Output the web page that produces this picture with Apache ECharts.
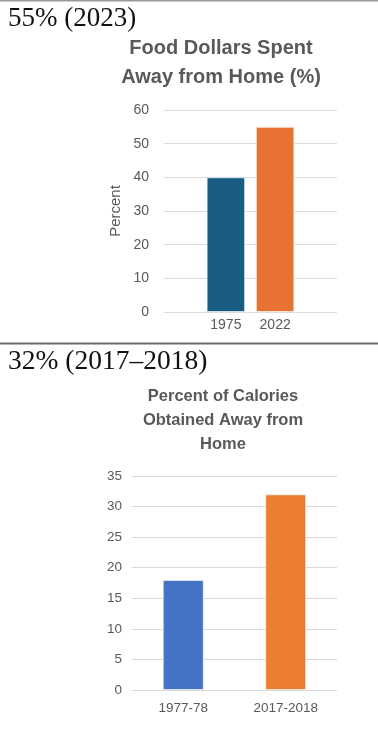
<!DOCTYPE html>
<html>
<head>
<meta charset="utf-8">
<script src="https://cdn.jsdelivr.net/npm/echarts@6/dist/echarts.min.js"></script>
<style>
html,body{margin:0;padding:0;background:#fff;}
#chart{width:378px;height:729px;}
</style>
</head>
<body>
<div id="chart"></div>
<script>
// ---- Data ----
const heading1 = '55% (2023)';
const title1 = 'Food Dollars Spent\nAway from Home (%)';
const categories1 = ['1975', '2022'];
const values1 = [40, 55];
const colors1 = ['#195E82', '#E87232'];
const yTicks1 = { min: 0, max: 60, interval: 10 };

const heading2 = '32% (2017\u20132018)';
const title2 = 'Percent of Calories\nObtained Away from\nHome';
const categories2 = ['1977-78', '2017-2018'];
const values2 = [18, 32];
const colors2 = ['#4472C4', '#ED7D31'];
const yTicks2 = { min: 0, max: 35, interval: 5 };

const chart = echarts.init(document.getElementById('chart'), null, { renderer: 'canvas' });

const gray = '#595959';
const sans = '"Liberation Sans", Arial, sans-serif';
const serif = '"Liberation Serif", "Times New Roman", serif';

// Chart 1: one category, one series per year so the bars sit side by side
const series1 = categories1.map((c, i) => ({
  type: 'bar',
  name: c,
  xAxisIndex: 0,
  yAxisIndex: 0,
  data: [values1[i]],
  barWidth: 38.5,
  barGap: '28%',
  itemStyle: { color: colors1[i], borderColor: 'rgba(255,255,255,0.6)', borderWidth: 1 },
  label: {
    show: true,
    position: 'bottom',
    distance: 6,
    formatter: () => c,
    color: gray,
    fontFamily: sans,
    fontSize: 14
  }
}));

const series2 = [{
  type: 'bar',
  xAxisIndex: 1,
  yAxisIndex: 1,
  data: values2.map((v, i) => ({ value: v, itemStyle: { color: colors2[i] } })),
  barWidth: 41,
  itemStyle: { borderColor: 'rgba(255,255,255,0.6)', borderWidth: 1 }
}];

const option = {
  animation: false,
  backgroundColor: '#ffffff',
  title: [
    { text: heading1, left: 8, top: 5, padding: 0,
      textStyle: { fontFamily: serif, fontSize: 27, fontWeight: 'normal', color: '#111111', lineHeight: 27 } },
    { text: title1, left: 221, top: 34.5, textAlign: 'center', padding: 0,
      textStyle: { fontFamily: sans, fontSize: 20, fontWeight: 'bold', color: gray, lineHeight: 28.4, align: 'center' } },
    { text: heading2, left: 8, top: 348, padding: 0,
      textStyle: { fontFamily: serif, fontSize: 27.5, fontWeight: 'normal', color: '#111111', lineHeight: 27 } },
    { text: title2, left: 223, top: 385, textAlign: 'center', padding: 0,
      textStyle: { fontFamily: sans, fontSize: 16.5, fontWeight: 'bold', color: gray, lineHeight: 23.6, align: 'center' } }
  ],
  grid: [
    { left: 164, right: 41, top: 110, bottom: 417 },
    { left: 132, right: 41, top: 476, bottom: 39 }
  ],
  xAxis: [
    { type: 'category', gridIndex: 0, data: [''],
      axisLine: { show: false }, axisTick: { show: false }, axisLabel: { show: false } },
    { type: 'category', gridIndex: 1, data: categories2,
      axisLine: { show: false }, axisTick: { show: false },
      axisLabel: { color: gray, fontFamily: sans, fontSize: 13.5, margin: 11 } }
  ],
  yAxis: [
    { type: 'value', gridIndex: 0, min: yTicks1.min, max: yTicks1.max, interval: yTicks1.interval,
      name: 'Percent', nameLocation: 'middle', nameGap: 41,
      nameTextStyle: { color: gray, fontFamily: sans, fontSize: 15 },
      axisLine: { show: false }, axisTick: { show: false },
      axisLabel: { color: gray, fontFamily: sans, fontSize: 14, margin: 15 },
      splitLine: { lineStyle: { color: '#DDDDDD', width: 1 } } },
    { type: 'value', gridIndex: 1, min: yTicks2.min, max: yTicks2.max, interval: yTicks2.interval,
      axisLine: { show: false }, axisTick: { show: false },
      axisLabel: { color: gray, fontFamily: sans, fontSize: 13.5, margin: 10 },
      splitLine: { lineStyle: { color: '#D9D9D9', width: 1 } } }
  ],
  graphic: [
    { type: 'rect', left: 0, top: 0, shape: { width: 378, height: 1.5 }, style: { fill: '#9A9A9A' }, silent: true },
    { type: 'rect', left: 0, top: 342.5, shape: { width: 378, height: 2 }, style: { fill: '#6B6B6B' }, silent: true }
  ],
  series: series1.concat(series2)
};

chart.setOption(option);
</script>
</body>
</html>
